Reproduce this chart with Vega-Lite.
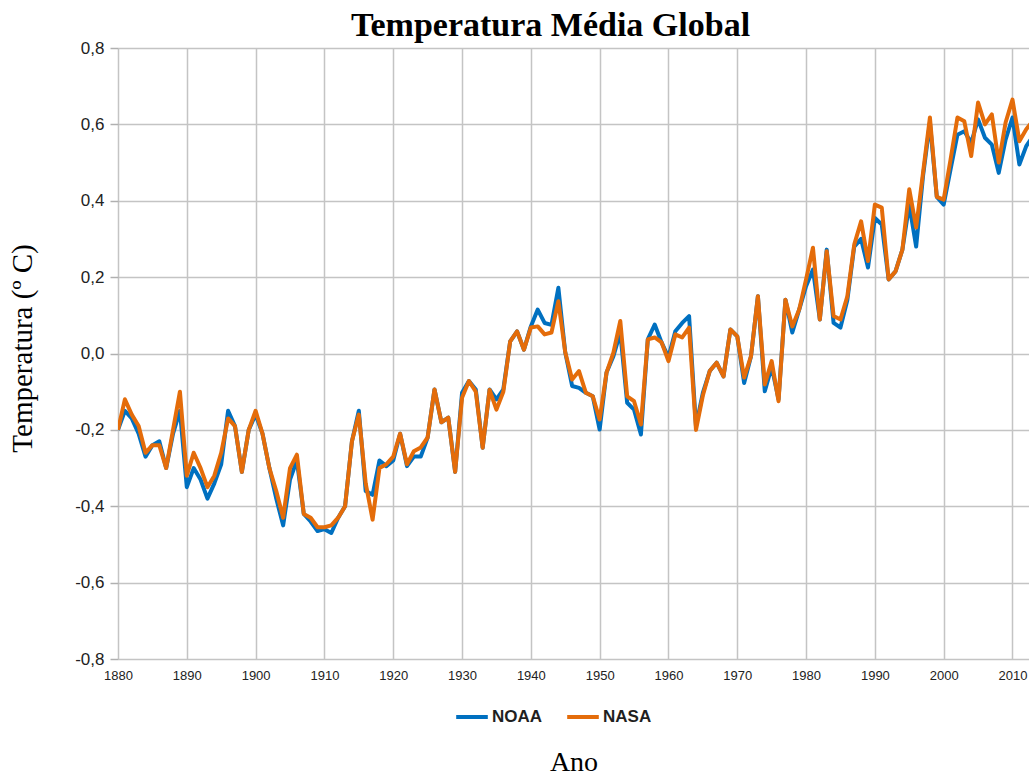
{
  "$schema": "https://vega.github.io/schema/vega-lite/v6.json",
  "width": 911,
  "height": 611,
  "autosize": {"type": "none"},
  "padding": {"left": 118, "top": 48, "right": 0, "bottom": 119},
  "background": "white",
  "title": {"text": "Temperatura Média Global", "font": "Liberation Serif", "fontSize": 34, "fontWeight": "bold", "color": "#000000", "anchor": "middle", "dx": -23, "offset": -4},
  "config": {"view": {"stroke": null}},
  "data": {"values": [
    {"ano":1880,"NOAA":-0.20,"NASA":-0.20},{"ano":1881,"NOAA":-0.15,"NASA":-0.12},{"ano":1882,"NOAA":-0.17,"NASA":-0.16},{"ano":1883,"NOAA":-0.21,"NASA":-0.19},{"ano":1884,"NOAA":-0.27,"NASA":-0.26},
    {"ano":1885,"NOAA":-0.24,"NASA":-0.24},{"ano":1886,"NOAA":-0.23,"NASA":-0.24},{"ano":1887,"NOAA":-0.30,"NASA":-0.30},{"ano":1888,"NOAA":-0.21,"NASA":-0.20},{"ano":1889,"NOAA":-0.15,"NASA":-0.10},
    {"ano":1890,"NOAA":-0.35,"NASA":-0.32},{"ano":1891,"NOAA":-0.30,"NASA":-0.26},{"ano":1892,"NOAA":-0.33,"NASA":-0.30},{"ano":1893,"NOAA":-0.38,"NASA":-0.35},{"ano":1894,"NOAA":-0.34,"NASA":-0.32},
    {"ano":1895,"NOAA":-0.29,"NASA":-0.26},{"ano":1896,"NOAA":-0.15,"NASA":-0.17},{"ano":1897,"NOAA":-0.19,"NASA":-0.19},{"ano":1898,"NOAA":-0.31,"NASA":-0.31},{"ano":1899,"NOAA":-0.20,"NASA":-0.20},
    {"ano":1900,"NOAA":-0.16,"NASA":-0.15},{"ano":1901,"NOAA":-0.21,"NASA":-0.21},{"ano":1902,"NOAA":-0.30,"NASA":-0.30},{"ano":1903,"NOAA":-0.38,"NASA":-0.36},{"ano":1904,"NOAA":-0.45,"NASA":-0.43},
    {"ano":1905,"NOAA":-0.33,"NASA":-0.30},{"ano":1906,"NOAA":-0.28,"NASA":-0.265},{"ano":1907,"NOAA":-0.42,"NASA":-0.42},{"ano":1908,"NOAA":-0.44,"NASA":-0.43},{"ano":1909,"NOAA":-0.465,"NASA":-0.455},
    {"ano":1910,"NOAA":-0.46,"NASA":-0.455},{"ano":1911,"NOAA":-0.47,"NASA":-0.45},{"ano":1912,"NOAA":-0.43,"NASA":-0.43},{"ano":1913,"NOAA":-0.40,"NASA":-0.40},{"ano":1914,"NOAA":-0.23,"NASA":-0.23},
    {"ano":1915,"NOAA":-0.15,"NASA":-0.16},{"ano":1916,"NOAA":-0.36,"NASA":-0.34},{"ano":1917,"NOAA":-0.37,"NASA":-0.435},{"ano":1918,"NOAA":-0.28,"NASA":-0.30},{"ano":1919,"NOAA":-0.295,"NASA":-0.29},
    {"ano":1920,"NOAA":-0.28,"NASA":-0.27},{"ano":1921,"NOAA":-0.21,"NASA":-0.21},{"ano":1922,"NOAA":-0.295,"NASA":-0.29},{"ano":1923,"NOAA":-0.27,"NASA":-0.256},{"ano":1924,"NOAA":-0.27,"NASA":-0.246},
    {"ano":1925,"NOAA":-0.22,"NASA":-0.22},{"ano":1926,"NOAA":-0.094,"NASA":-0.094},{"ano":1927,"NOAA":-0.18,"NASA":-0.18},{"ano":1928,"NOAA":-0.168,"NASA":-0.168},{"ano":1929,"NOAA":-0.31,"NASA":-0.31},
    {"ano":1930,"NOAA":-0.103,"NASA":-0.116},{"ano":1931,"NOAA":-0.072,"NASA":-0.072},{"ano":1932,"NOAA":-0.094,"NASA":-0.10},{"ano":1933,"NOAA":-0.247,"NASA":-0.247},{"ano":1934,"NOAA":-0.094,"NASA":-0.095},
    {"ano":1935,"NOAA":-0.12,"NASA":-0.147},{"ano":1936,"NOAA":-0.094,"NASA":-0.10},{"ano":1937,"NOAA":0.032,"NASA":0.032},{"ano":1938,"NOAA":0.058,"NASA":0.058},{"ano":1939,"NOAA":0.01,"NASA":0.01},
    {"ano":1940,"NOAA":0.071,"NASA":0.068},{"ano":1941,"NOAA":0.115,"NASA":0.071},{"ano":1942,"NOAA":0.08,"NASA":0.05},{"ano":1943,"NOAA":0.075,"NASA":0.055},{"ano":1944,"NOAA":0.172,"NASA":0.137},
    {"ano":1945,"NOAA":0.003,"NASA":0.003},{"ano":1946,"NOAA":-0.085,"NASA":-0.068},{"ano":1947,"NOAA":-0.09,"NASA":-0.046},{"ano":1948,"NOAA":-0.103,"NASA":-0.103},{"ano":1949,"NOAA":-0.112,"NASA":-0.112},
    {"ano":1950,"NOAA":-0.199,"NASA":-0.173},{"ano":1951,"NOAA":-0.05,"NASA":-0.05},{"ano":1952,"NOAA":-0.007,"NASA":0.002},{"ano":1953,"NOAA":0.055,"NASA":0.085},{"ano":1954,"NOAA":-0.129,"NASA":-0.112},
    {"ano":1955,"NOAA":-0.147,"NASA":-0.125},{"ano":1956,"NOAA":-0.212,"NASA":-0.186},{"ano":1957,"NOAA":0.037,"NASA":0.037},{"ano":1958,"NOAA":0.076,"NASA":0.042},{"ano":1959,"NOAA":0.029,"NASA":0.029},
    {"ano":1960,"NOAA":-0.01,"NASA":-0.02},{"ano":1961,"NOAA":0.058,"NASA":0.05},{"ano":1962,"NOAA":0.08,"NASA":0.042},{"ano":1963,"NOAA":0.098,"NASA":0.068},{"ano":1964,"NOAA":-0.19,"NASA":-0.20},
    {"ano":1965,"NOAA":-0.103,"NASA":-0.11},{"ano":1966,"NOAA":-0.046,"NASA":-0.046},{"ano":1967,"NOAA":-0.024,"NASA":-0.024},{"ano":1968,"NOAA":-0.06,"NASA":-0.06},{"ano":1969,"NOAA":0.063,"NASA":0.063},
    {"ano":1970,"NOAA":0.045,"NASA":0.045},{"ano":1971,"NOAA":-0.077,"NASA":-0.063},{"ano":1972,"NOAA":-0.007,"NASA":-0.007},{"ano":1973,"NOAA":0.15,"NASA":0.15},{"ano":1974,"NOAA":-0.099,"NASA":-0.081},
    {"ano":1975,"NOAA":-0.035,"NASA":-0.02},{"ano":1976,"NOAA":-0.12,"NASA":-0.125},{"ano":1977,"NOAA":0.141,"NASA":0.141},{"ano":1978,"NOAA":0.055,"NASA":0.071},{"ano":1979,"NOAA":0.115,"NASA":0.115},
    {"ano":1980,"NOAA":0.176,"NASA":0.194},{"ano":1981,"NOAA":0.22,"NASA":0.277},{"ano":1982,"NOAA":0.089,"NASA":0.089},{"ano":1983,"NOAA":0.272,"NASA":0.268},{"ano":1984,"NOAA":0.08,"NASA":0.098},
    {"ano":1985,"NOAA":0.068,"NASA":0.089},{"ano":1986,"NOAA":0.14,"NASA":0.15},{"ano":1987,"NOAA":0.28,"NASA":0.285},{"ano":1988,"NOAA":0.30,"NASA":0.346},{"ano":1989,"NOAA":0.225,"NASA":0.242},
    {"ano":1990,"NOAA":0.355,"NASA":0.39},{"ano":1991,"NOAA":0.338,"NASA":0.382},{"ano":1992,"NOAA":0.194,"NASA":0.194},{"ano":1993,"NOAA":0.215,"NASA":0.215},{"ano":1994,"NOAA":0.272,"NASA":0.272},
    {"ano":1995,"NOAA":0.39,"NASA":0.43},{"ano":1996,"NOAA":0.28,"NASA":0.33},{"ano":1997,"NOAA":0.465,"NASA":0.473},{"ano":1998,"NOAA":0.605,"NASA":0.618},{"ano":1999,"NOAA":0.41,"NASA":0.41},
    {"ano":2000,"NOAA":0.39,"NASA":0.403},{"ano":2001,"NOAA":0.482,"NASA":0.508},{"ano":2002,"NOAA":0.573,"NASA":0.618},{"ano":2003,"NOAA":0.582,"NASA":0.608},{"ano":2004,"NOAA":0.552,"NASA":0.517},
    {"ano":2005,"NOAA":0.613,"NASA":0.657},{"ano":2006,"NOAA":0.565,"NASA":0.60},{"ano":2007,"NOAA":0.547,"NASA":0.626},{"ano":2008,"NOAA":0.473,"NASA":0.50},{"ano":2009,"NOAA":0.56,"NASA":0.605},
    {"ano":2010,"NOAA":0.618,"NASA":0.665},{"ano":2011,"NOAA":0.495,"NASA":0.556},{"ano":2012,"NOAA":0.543,"NASA":0.587},{"ano":2013,"NOAA":0.57,"NASA":0.61}
  ]},
  "transform": [{"fold": ["NOAA", "NASA"], "as": ["serie", "temp"]}],
  "mark": {"type": "line", "strokeWidth": 4, "clip": true, "strokeJoin": "round"},
  "encoding": {
    "x": {
      "field": "ano", "type": "quantitative",
      "scale": {"domain": [1880, 2012.4], "nice": false, "zero": false},
      "axis": {
        "values": [1880,1890,1900,1910,1920,1930,1940,1950,1960,1970,1980,1990,2000,2010],
        "format": "d", "grid": true, "gridColor": "#c4c4c4", "gridWidth": 1.5,
        "ticks": false, "domain": false, "labelFlush": false,
        "labelFont": "Liberation Sans Narrow, Liberation Sans", "labelFontSize": 13, "labelColor": "#222222", "labelPadding": 10,
        "title": "Ano", "titleFont": "Liberation Serif", "titleFontSize": 28, "titleFontWeight": "normal", "titleColor": "#000000",
        "titleY": 103, "titleBaseline": "middle"
      }
    },
    "y": {
      "field": "temp", "type": "quantitative",
      "scale": {"domain": [-0.8, 0.8], "nice": false},
      "axis": {
        "values": [-0.8,-0.6,-0.4,-0.2,0,0.2,0.4,0.6,0.8],
        "labelExpr": "replace(replace(format(datum.value, '.1f'), '.', ','), '\u2212', '-')",
        "grid": true, "gridColor": "#c4c4c4", "gridWidth": 1.5,
        "ticks": true, "tickSize": 8, "tickColor": "#b0b0b0", "tickWidth": 1.5, "domain": false, "labelFlush": false,
        "labelFont": "Liberation Sans Narrow, Liberation Sans", "labelFontSize": 17, "labelColor": "#222222", "labelPadding": 6,
        "title": "Temperatura (º C)", "titleFont": "Liberation Serif", "titleFontSize": 29, "titleFontWeight": "normal", "titleColor": "#000000",
        "titleX": -96, "titleY": 300, "titleAlign": "center", "titleBaseline": "middle"
      }
    },
    "color": {
      "field": "serie", "type": "nominal",
      "scale": {"domain": ["NOAA", "NASA"], "range": ["#0070C0", "#E46C0A"]},
      "legend": {
        "title": null, "orient": "none", "direction": "horizontal", "legendX": 336, "legendY": 651, "padding": 0,
        "symbolType": "stroke", "symbolStrokeWidth": 4, "symbolSize": 1000, "labelOffset": 2, "columnPadding": 16,
        "labelFont": "Liberation Sans", "labelFontWeight": "bold", "labelFontSize": 17, "labelColor": "#1f1f1f"
      }
    }
  }
}
